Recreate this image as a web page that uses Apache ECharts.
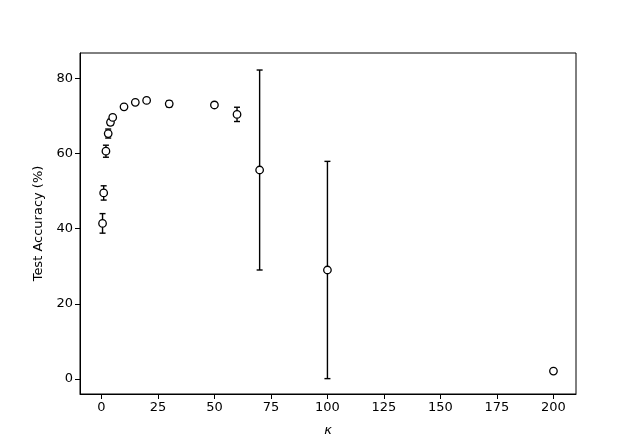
<!DOCTYPE html>
<html>
<head>
<meta charset="utf-8">
<script src="https://cdn.jsdelivr.net/npm/echarts@6/dist/echarts.min.js"></script>
<style>html,body{margin:0;padding:0;background:#fff;}#c{width:640px;height:443px;}</style>
</head>
<body>
<div id="c"></div>
<script>
const kappa = [0.5, 1, 2, 3, 4, 5, 10, 15, 20, 30, 50, 60, 70, 100, 200];
const accuracy = [41.4, 49.5, 60.6, 65.3, 68.3, 69.6, 72.4, 73.6, 74.1, 73.2, 72.9, 70.4, 55.6, 29.0, 2.1];
const accuracyErr = [2.6, 1.9, 1.6, 1.2, 0.8, 0.6, 0.6, 0.5, 0.4, 0.8, 0.6, 1.9, 26.6, 28.9, 0.3];
const xTicks = [0, 25, 50, 75, 100, 125, 150, 175, 200];
const yTicks = [0, 20, 40, 60, 80];

const points = kappa.map((k, i) => [k, accuracy[i]]);
const errData = kappa.map((k, i) => [k, accuracy[i], accuracyErr[i]]);

const chart = echarts.init(document.getElementById('c'), null, {renderer: 'canvas'});
const font = 'DejaVu Sans';
chart.setOption({
  animation: false,
  backgroundColor: '#fff',
  grid: {left: 80, right: 64, top: 53, bottom: 49, show: true, borderColor: '#000', borderWidth: 1, containLabel: false},
  xAxis: {
    type: 'value', min: -9.475, max: 209.975,
    name: 'κ', nameLocation: 'middle', nameGap: 30,
    nameTextStyle: {fontFamily: font, fontSize: 13, fontStyle: 'italic', color: '#000'},
    axisLine: {show: true, onZero: false, lineStyle: {color: '#000', width: 1}},
    axisTick: {show: true, inside: false, length: 5, lineStyle: {color: '#000'}, customValues: xTicks},
    axisLabel: {customValues: xTicks, fontFamily: font, fontSize: 13, color: '#000', margin: 7},
    splitLine: {show: false}
  },
  yAxis: {
    type: 'value', min: -3.99, max: 86.73,
    name: 'Test Accuracy (%)', nameLocation: 'middle', nameGap: 34,
    nameTextStyle: {fontFamily: font, fontSize: 13, color: '#000'},
    axisLine: {show: true, onZero: false, lineStyle: {color: '#000', width: 1}},
    axisTick: {show: true, inside: false, length: 5, lineStyle: {color: '#000'}, customValues: yTicks},
    axisLabel: {customValues: yTicks, fontFamily: font, fontSize: 13, color: '#000', margin: 7},
    splitLine: {show: false}
  },
  series: [
    {
      type: 'custom',
      data: errData,
      z: 2,
      renderItem: function (params, api) {
        const x = api.value(0), y = api.value(1), e = api.value(2);
        const hi = api.coord([x, y + e]);
        const lo = api.coord([x, y - e]);
        const cap = 3;
        const style = {stroke: '#000', lineWidth: 1.4};
        return {
          type: 'group',
          children: [
            {type: 'line', shape: {x1: hi[0], y1: hi[1], x2: lo[0], y2: lo[1]}, style: style},
            {type: 'line', shape: {x1: hi[0] - cap, y1: hi[1], x2: hi[0] + cap, y2: hi[1]}, style: style},
            {type: 'line', shape: {x1: lo[0] - cap, y1: lo[1], x2: lo[0] + cap, y2: lo[1]}, style: style}
          ]
        };
      }
    },
    {
      type: 'scatter',
      data: points,
      z: 3,
      symbol: 'circle',
      symbolSize: 7.5,
      itemStyle: {color: '#fff', borderColor: '#000', borderWidth: 1.3, opacity: 1}
    }
  ]
});
</script>
</body>
</html>
